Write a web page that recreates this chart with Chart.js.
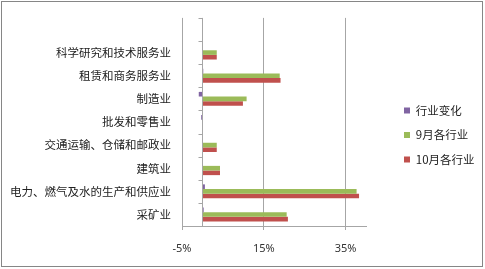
<!DOCTYPE html>
<html>
<head>
<meta charset="utf-8">
<script src="https://cdn.jsdelivr.net/npm/chart.js@4/dist/chart.umd.min.js"></script>
<style>
  html, body { margin: 0; padding: 0; background: #fff; }
  #wrap { position: relative; width: 485px; height: 269px; }
</style>
</head>
<body>
<div id="wrap"><canvas id="c" width="485" height="269"></canvas></div>
<script>
// Industry categories, top to bottom (first slot is an empty row)
const categories = ['', '科学研究和技术服务业', '租赁和商务服务业', '制造业', '批发和零售业',
  '交通运输、仓储和邮政业', '建筑业', '电力、燃气及水的生产和供应业', '采矿业'];

// Series values, in percent
const changeValues = [null, 0, 0.2, -0.9, -0.3, 0, 0, 0.6, 0.3];
const sepValues    = [null, 3.5, 18.9, 10.8, 0, 3.5, 4.3, 37.7, 20.6];
const octValues    = [null, 3.5, 19.1, 9.9, 0, 3.5, 4.3, 38.3, 20.9];

const seriesNames = ['行业变化', '9月各行业', '10月各行业'];
const xTicks = [-5, 15, 35];

const CJK = '"Noto Sans CJK SC", "Noto Sans", sans-serif';

// Frame around the whole chart and the vertical zero line with category ticks
const framePlugin = {
  id: 'frame',
  beforeDraw(chart) {
    const ctx = chart.ctx;
    ctx.save();
    ctx.fillStyle = '#fff';
    ctx.fillRect(0, 0, chart.width, chart.height);
    ctx.strokeStyle = '#868686';
    ctx.lineWidth = 1;
    ctx.strokeRect(1.5, 1.5, chart.width - 4, chart.height - 4);
    ctx.restore();
  },
  afterDatasetsDraw(chart) {
    const ctx = chart.ctx;
    const x = Math.round(chart.scales.x.getPixelForValue(0)) + 0.5;
    const ys = chart.scales.y;
    const {top, bottom} = chart.chartArea;
    const n = categories.length;
    const step = (bottom - top) / n;
    ctx.save();
    ctx.strokeStyle = '#a6a6a6';
    ctx.lineWidth = 1;
    ctx.beginPath();
    ctx.moveTo(x, top);
    ctx.lineTo(x, bottom);
    for (let i = 0; i <= n; i++) {
      const y = Math.round(ys.getPixelForValue(0) - step / 2 + i * step) + 0.5;
      ctx.moveTo(x - 4, y);
      ctx.lineTo(x, y);
    }
    ctx.stroke();
    ctx.restore();
  }
};

// Fixed legend width, and the legend block nudged right and up of its slot
const legendLayout = {
  id: 'legendLayout',
  beforeLayout(chart) {
    const lg = chart.legend;
    if (lg && !lg._fixedWidth) {
      const fit = lg.fit.bind(lg);
      lg.fit = function () { fit(); this.width = 119; };
      lg._fixedWidth = true;
    }
  },
  afterLayout(chart) {
    const lg = chart.legend;
    if (!lg) return;
    const dx = 25, dy = -7;
    lg.left += dx; lg.right += dx;
    lg.top += dy; lg.bottom += dy;
  }
};

new Chart(document.getElementById('c'), {
  type: 'bar',
  data: {
    labels: categories,
    datasets: [
      { label: seriesNames[0], data: changeValues, backgroundColor: '#8064A2' },
      { label: seriesNames[1], data: sepValues, backgroundColor: '#9BBB59' },
      { label: seriesNames[2], data: octValues, backgroundColor: '#C0504D' }
    ]
  },
  options: {
    indexAxis: 'y',
    responsive: false,
    animation: false,
    devicePixelRatio: 1,
    layout: { padding: { top: 15, left: 0, right: 0, bottom: 0 } },
    datasets: {
      bar: { categoryPercentage: 0.6, barPercentage: 1.0, borderWidth: 0 }
    },
    scales: {
      x: {
        min: -5,
        max: 40,
        afterBuildTicks(scale) {
          scale.ticks = xTicks.map(v => ({ value: v }));
        },
        afterFit(scale) { scale.height = 43; },
        grid: { color: '#a6a6a6', tickLength: 4, drawTicks: true },
        border: { color: '#a6a6a6' },
        ticks: {
          padding: 12,
          color: '#333',
          font: { family: 'Noto Sans, sans-serif', size: 11 },
          callback: v => v + '%'
        }
      },
      y: {
        afterFit(scale) { scale.width = 182; },
        grid: { display: false, drawTicks: false },
        border: { display: false },
        ticks: {
          padding: 11,
          color: '#222',
          autoSkip: false,
          font: { family: CJK, size: 11.5 }
        }
      }
    },
    plugins: {
      legend: {
        position: 'right',
        labels: {
          boxWidth: 6,
          boxHeight: 6,
          padding: 13,
          color: '#222',
          font: { family: CJK, size: 11.5 }
        }
      },
      tooltip: { enabled: false }
    }
  },
  plugins: [framePlugin, legendLayout]
});
</script>
</body>
</html>
